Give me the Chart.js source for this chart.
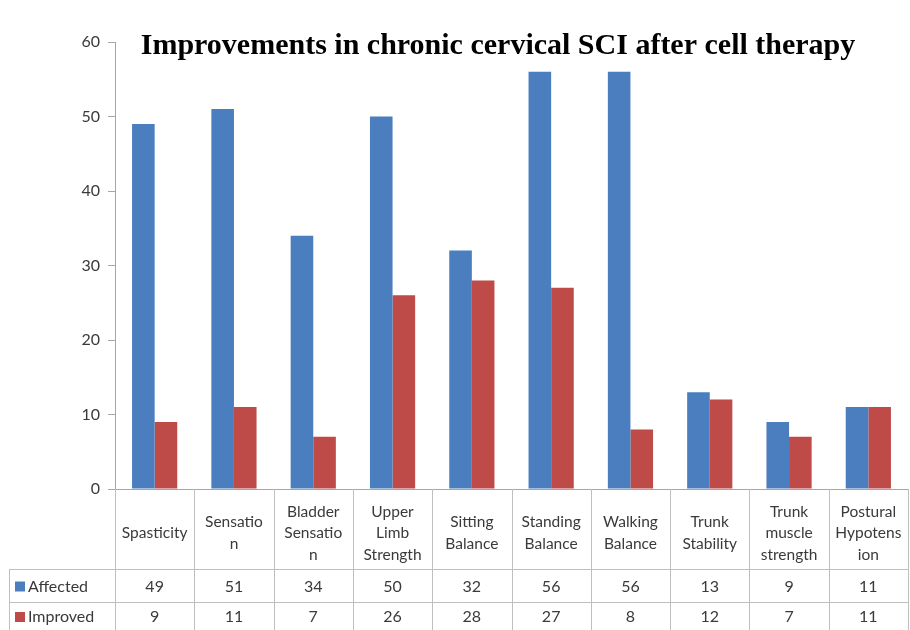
<!DOCTYPE html>
<html>
<head>
<meta charset="utf-8">
<script src="https://cdn.jsdelivr.net/npm/chart.js@4"></script>
<style>
  html, body { margin: 0; padding: 0; background: #fff; }
  #wrap { width: 910px; height: 630px; }
</style>
</head>
<body>
<div id="wrap"><canvas id="myChart"></canvas></div>
<script>
// categories (header of the data table, line breaks as in the source)
const categories = [
    ['Spasticity'],
    ['Sensatio', 'n'],
    ['Bladder', 'Sensatio', 'n'],
    ['Upper', 'Limb', 'Strength'],
    ['Sitting', 'Balance'],
    ['Standing', 'Balance'],
    ['Walking', 'Balance'],
    ['Trunk', 'Stability'],
    ['Trunk', 'muscle', 'strength'],
    ['Postural', 'Hypotens', 'ion']
];
const affected = [49, 51, 34, 50, 32, 56, 56, 13, 9, 11];
const improved = [9, 11, 7, 26, 28, 27, 8, 12, 7, 11];
const yTicks = [0, 10, 20, 30, 40, 50, 60];
const chartTitle = 'Improvements in chronic cervical SCI after cell therapy';

const blue = '#4A7EBF';
const red = '#BE4B48';
const lineGray = '#BFBFBF';
const textGray = '#3A3A3A';
const tableFont = '15.5px Lato, "Open Sans", sans-serif';

// draws the title and the data table under the plot
const tablePlugin = {
    id: 'dataTable',
    afterDraw(chart) {
        const ctx = chart.ctx;
        const area = chart.chartArea;
        const x = chart.scales.x;
        const n = categories.length;
        const colW = (area.right - area.left) / n;
        const headTop = area.bottom;
        const headBottom = headTop + 80;
        const row1Bottom = headBottom + 33;
        const row2Bottom = chart.height;
        const tableLeft = 9;

        ctx.save();

        // title
        ctx.font = 'bold 30px "Liberation Serif", "Times New Roman", serif';
        ctx.fillStyle = '#000';
        ctx.textAlign = 'center';
        ctx.textBaseline = 'middle';
        ctx.fillText(chartTitle, 498, area.top + 4, 728);

        // grid lines of the table
        ctx.strokeStyle = lineGray;
        ctx.lineWidth = 1;
        ctx.beginPath();
        for (let i = 0; i <= n; i++) {
            const bx = Math.round(area.left + i * colW) + 0.5;
            ctx.moveTo(bx, headTop);
            ctx.lineTo(bx, row2Bottom);
        }
        ctx.moveTo(tableLeft + 0.5, headBottom);
        ctx.lineTo(tableLeft + 0.5, row2Bottom);
        [headBottom, row1Bottom].forEach(function(yy) {
            ctx.moveTo(tableLeft, Math.round(yy) + 0.5);
            ctx.lineTo(area.right, Math.round(yy) + 0.5);
        });
        ctx.stroke();

        // header labels
        ctx.font = tableFont;
        ctx.fillStyle = textGray;
        ctx.textAlign = 'center';
        ctx.textBaseline = 'middle';
        const lineH = 21.5;
        categories.forEach(function(lines, i) {
            const cx = x.getPixelForValue(i);
            const cy = (headTop + headBottom) / 2 + 4;
            const y0 = cy - (lines.length - 1) * lineH / 2;
            lines.forEach(function(t, k) {
                ctx.fillText(t, cx, y0 + k * lineH);
            });
        });

        // value rows
        const rows = [
            { label: 'Affected', color: blue, data: affected, y: (headBottom + row1Bottom) / 2 + 1 },
            { label: 'Improved', color: red, data: improved, y: (row1Bottom + row2Bottom) / 2 + 1 }
        ];
        ctx.font = '16px Lato, "Open Sans", sans-serif';
        rows.forEach(function(r) {
            ctx.fillStyle = r.color;
            ctx.fillRect(tableLeft + 6, r.y - 5, 10, 10);
            ctx.fillStyle = textGray;
            ctx.textAlign = 'left';
            ctx.fillText(r.label, tableLeft + 19, r.y);
            ctx.textAlign = 'center';
            r.data.forEach(function(v, i) {
                ctx.fillText(String(v), x.getPixelForValue(i), r.y);
            });
        });

        ctx.restore();
    }
};

const ctx = document.getElementById('myChart').getContext('2d');
const chart = new Chart(ctx, {
    type: 'bar',
    data: {
        labels: categories,
        datasets: [
            { label: 'Affected', data: affected, backgroundColor: blue },
            { label: 'Improved', data: improved, backgroundColor: red }
        ]
    },
    options: {
        responsive: true,
        maintainAspectRatio: false,
        animation: false,
        datasets: {
            bar: { categoryPercentage: 0.57, barPercentage: 1.0 }
        },
        layout: {
            padding: { top: 42, bottom: 141, right: 2, left: 0 }
        },
        plugins: {
            legend: { display: false },
            title: { display: false },
            tooltip: { enabled: false }
        },
        scales: {
            x: {
                ticks: { display: false },
                grid: { display: false },
                border: { display: true, color: '#A6A6A6' },
                afterFit: function(scale) { scale.height = 0; }
            },
            y: {
                min: 0,
                max: 60,
                afterBuildTicks: function(scale) {
                    scale.ticks = yTicks.map(function(v) { return { value: v }; });
                },
                ticks: {
                    color: textGray,
                    font: { size: 16, family: 'Lato, "Open Sans", sans-serif' },
                    padding: 8
                },
                grid: {
                    drawOnChartArea: false,
                    drawTicks: true,
                    tickLength: 7,
                    color: '#A6A6A6'
                },
                border: { display: true, color: '#A6A6A6' },
                afterFit: function(scale) { scale.width = 115; }
            }
        }
    },
    plugins: [tablePlugin]
});
</script>
</body>
</html>
